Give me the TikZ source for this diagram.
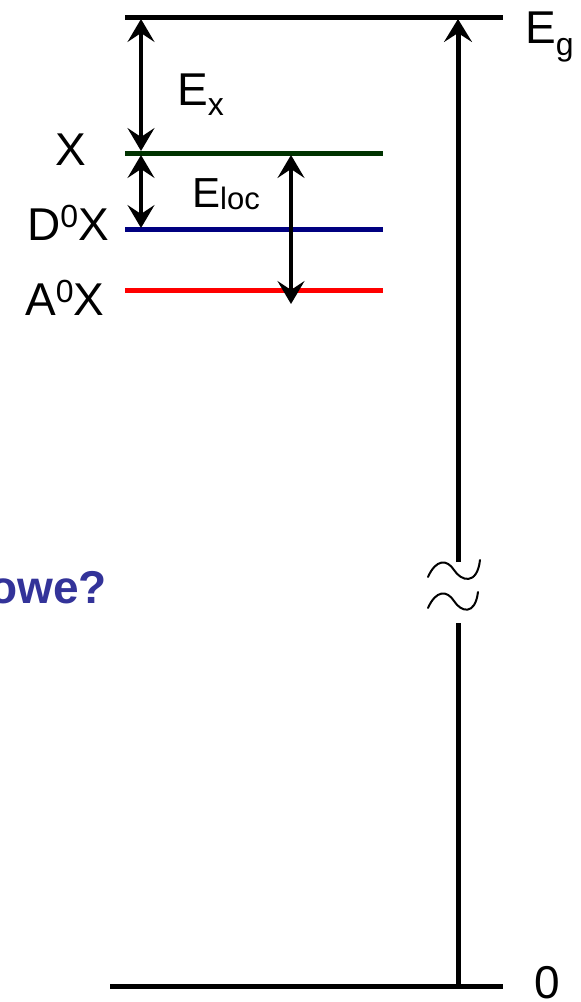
\documentclass[tikz,border=0pt]{standalone}
\usepackage{fontspec}
\setmainfont{Liberation Sans}
\usetikzlibrary{arrows.meta}
\definecolor{lvgreen}{RGB}{0,51,0}
\definecolor{lvblue}{RGB}{0,0,128}
\definecolor{lvred}{RGB}{255,0,0}
\definecolor{qpurple}{RGB}{51,51,153}
\tikzset{
  level/.style={line width=5pt},
  dimarrow/.style={line width=3.2pt,{Stealth[length=23pt,width=27pt,inset=9pt]}-{Stealth[length=23pt,width=27pt,inset=9pt]}},
  uparrow/.style={line width=5pt,-{Stealth[length=23pt,width=28pt,inset=9pt]}},
  lbl/.style={inner sep=0pt,anchor=base west,font=\fontsize{46}{50}\selectfont},
  wave/.style={line width=2pt,line cap=round}
}
\newcommand{\ssmall}[1]{{\fontsize{32}{34}\selectfont #1}}
\begin{document}
\begin{tikzpicture}[x=1pt,y=-1pt]
\useasboundingbox (0,0) rectangle (581,1002);
% levels
\coordinate (gL) at (125,17);
\coordinate (gR) at (503,17);
\coordinate (xL) at (125,153);
\coordinate (xR) at (383,153);
\coordinate (dL) at (125,229);
\coordinate (dR) at (383,229);
\coordinate (aL) at (125,290);
\coordinate (aR) at (383,290);
\coordinate (zL) at (110,986);
\coordinate (zR) at (503,986);
\draw[level,black] (gL) -- (gR);
\draw[level,lvgreen] (xL) -- (xR);
\draw[level,lvblue] (dL) -- (dR);
\draw[level,lvred] (aL) -- (aR);
\draw[level,black] (zL) -- (zR);
% dimension arrows
\coordinate (ex1) at (141,19);
\coordinate (ex2) at (141,151);
\coordinate (dx1) at (141,155);
\coordinate (dx2) at (141,228);
\coordinate (el1) at (291,155);
\coordinate (el2) at (291,304);
\draw[dimarrow] (ex1) -- (ex2);
\draw[dimarrow] (dx1) -- (dx2);
\draw[dimarrow] (el1) -- (el2);
% gap arrow
\coordinate (v0) at (458,986);
\coordinate (v1) at (458,562);
\coordinate (v2) at (458,623);
\coordinate (v3) at (458,19);
\draw[level] (v0) -- (v2);
\draw[uparrow] (v1) -- (v3);
% break symbol
\draw[wave] (428,577) .. controls (436,559) and (447,559) .. (454,570)
            .. controls (461,581) and (477,586) .. (480,560);
\draw[wave] (428,608) .. controls (436,590) and (447,590) .. (454,601)
            .. controls (461,612) and (475,616) .. (478,592);
% labels
\node[lbl] (lx) at (55,165) {X};
\node[lbl] (ld) at (27,240) {D\raisebox{13pt}{\ssmall{0}}X};
\node[lbl] (la) at (25,315) {A\raisebox{13pt}{\ssmall{0}}X};
\node[lbl] (lex) at (177,105) {E\raisebox{-10pt}{\ssmall{x}}};
\node[lbl] (lel) at (192,207) {{\fontsize{42}{46}\selectfont E}\raisebox{-2pt}{\fontsize{31}{33}\selectfont loc}};
\node[lbl] (leg) at (525,43) {E\raisebox{-12pt}{\ssmall{g}}};
\node[lbl] (l0) at (534,998) {0};
\node[inner sep=0pt,anchor=base east,font=\fontsize{46}{50}\selectfont\bfseries,text=qpurple] (q) at (107,603) {owe?};
\end{tikzpicture}
\end{document}
